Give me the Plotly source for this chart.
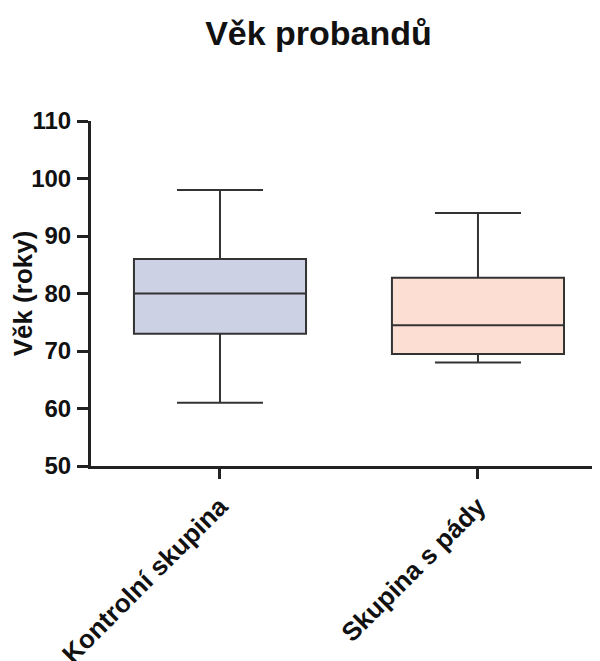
import plotly.graph_objects as go

categories = ["Kontrolní skupina", "Skupina s pády"]
lower_whisker = [61, 68]
q1_vals = [73, 69.5]
medians = [80, 74.5]
q3_vals = [86, 82.75]
upper_whisker = [98, 94]
fill_colors = ["#CDD1E4", "#FDDED3"]

y_ticks = [50, 60, 70, 80, 90, 100, 110]

fig = go.Figure()
for i, cat in enumerate(categories):
    fig.add_trace(go.Box(
        x=[cat],
        q1=[q1_vals[i]], median=[medians[i]], q3=[q3_vals[i]],
        lowerfence=[lower_whisker[i]], upperfence=[upper_whisker[i]],
        fillcolor=fill_colors[i],
        line=dict(color="#333333", width=2),
        width=0.667, whiskerwidth=0.5,
        boxpoints=False, showlegend=False, hoverinfo="skip",
    ))

font_family = "Liberation Sans, Arial, sans-serif"
# page has an 8px body margin: figure is sized to fill the remaining viewport
W, H = 592, 653
fig.update_layout(
    width=W, height=H,
    margin=dict(l=83, r=0, t=113, b=195),
    paper_bgcolor="white", plot_bgcolor="white",
    title=dict(text="<b>Věk probandů</b>", x=310.5 / W, xanchor="center",
               y=1 - 25 / H, yanchor="middle",
               font=dict(family=font_family, size=34, color="#111111")),
    xaxis=dict(
        type="category", range=[-0.5, 1.473], automargin=False,
        showline=True, linecolor="#222222", linewidth=3,
        ticks="outside", ticklen=10, tickwidth=2.5, tickcolor="#222222",
        tickangle=-45, showgrid=False, zeroline=False,
        tickfont=dict(family=font_family, size=26, color="#111111"),
        ticklabelstandoff=2,
        tickvals=categories, ticktext=[f"<b>{c}</b>" for c in categories],
    ),
    yaxis=dict(
        range=[50, 110], tickvals=y_ticks, automargin=False,
        showline=True, linecolor="#222222", linewidth=3,
        ticks="outside", ticklen=11, tickwidth=2.5, tickcolor="#222222",
        showgrid=False, zeroline=False,
        tickfont=dict(family=font_family, size=24, color="#111111"),
        ticktext=[f"<b>{v}</b>" for v in y_ticks],
        ticklabelstandoff=1,
        title=dict(text="<b>Věk (roky)</b>", standoff=2,
                   font=dict(family=font_family, size=26, color="#111111")),
    ),
)
fig.write_html("out.html")
